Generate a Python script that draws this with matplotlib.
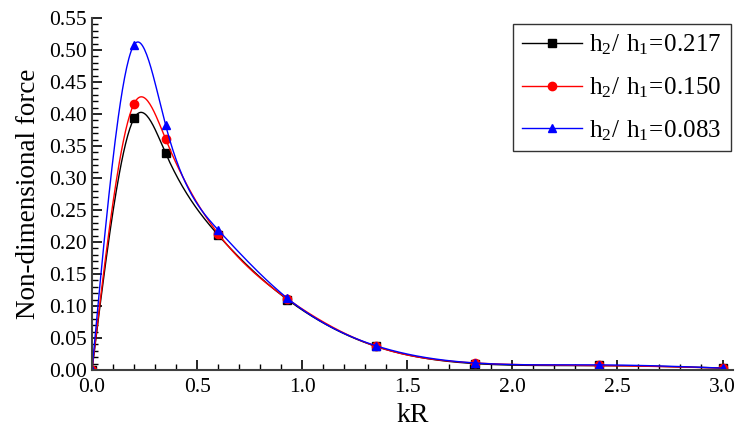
import numpy as np
import matplotlib
matplotlib.use("Agg")
import matplotlib.pyplot as plt
from matplotlib.ticker import MultipleLocator

# data
kR = [0.0, 0.20, 0.35, 0.60, 0.93, 1.35, 1.82, 2.41, 3.00]
force_0217 = [0.0, 0.393, 0.339, 0.211, 0.110, 0.037, 0.010, 0.007, 0.003]
force_0150 = [0.0, 0.416, 0.361, 0.213, 0.111, 0.037, 0.011, 0.007, 0.003]
force_0083 = [0.0, 0.508, 0.383, 0.219, 0.112, 0.038, 0.011, 0.008, 0.003]
labels = [r"$\mathrm{h_2/\ h_1\!=\!0.217}$",
          r"$\mathrm{h_2/\ h_1\!=\!0.150}$",
          r"$\mathrm{h_2/\ h_1\!=\!0.083}$"]


def spline_line(x, y, n=600):
    # natural cubic spline, the way the original plot connects points
    x = np.asarray(x, float)
    y = np.asarray(y, float)
    m = len(x)
    h = np.diff(x)
    A = np.zeros((m, m))
    r = np.zeros(m)
    A[0, 0] = 1
    A[-1, -1] = 1
    for i in range(1, m - 1):
        A[i, i - 1] = h[i - 1]
        A[i, i] = 2 * (h[i - 1] + h[i])
        A[i, i + 1] = h[i]
        r[i] = 6 * ((y[i + 1] - y[i]) / h[i] - (y[i] - y[i - 1]) / h[i - 1])
    M = np.linalg.solve(A, r)
    xs = np.linspace(x[0], x[-1], n)
    idx = np.clip(np.searchsorted(x, xs) - 1, 0, m - 2)
    x0, x1 = x[idx], x[idx + 1]
    hh = x1 - x0
    ys = (M[idx] * (x1 - xs) ** 3 / (6 * hh) + M[idx + 1] * (xs - x0) ** 3 / (6 * hh)
          + (y[idx] / hh - M[idx] * hh / 6) * (x1 - xs)
          + (y[idx + 1] / hh - M[idx + 1] * hh / 6) * (xs - x0))
    return xs, ys


plt.rcParams['font.family'] = ['Liberation Serif', 'DejaVu Serif']
plt.rcParams['mathtext.fontset'] = 'custom'
plt.rcParams['mathtext.rm'] = 'Liberation Serif'

fig = plt.figure(figsize=(7.37, 4.38), dpi=100)
ax = fig.add_axes([0.1248, 0.1553, 0.8698, 0.8036])

series = [(force_0217, 'black', 's'), (force_0150, 'red', 'o'), (force_0083, 'blue', '^')]
for (vals, col, mk), lab in zip(series, labels):
    xs, ys = spline_line(kR, vals)
    ax.plot(xs, ys, color=col, linewidth=1.0)
    ax.plot(kR, vals, linestyle='none', marker=mk, color=col, markersize=6)
    # legend proxy
    ax.plot([], [], color=col, marker=mk, markersize=6, linewidth=1.0, label=lab)

ax.set_xlim(0, 3.05)
ax.set_ylim(0, 0.55)
ax.xaxis.set_major_locator(MultipleLocator(0.5))
ax.xaxis.set_minor_locator(MultipleLocator(0.1))
ax.yaxis.set_major_locator(MultipleLocator(0.05))
ax.yaxis.set_minor_locator(MultipleLocator(0.01))
ax.xaxis.set_major_formatter(matplotlib.ticker.FormatStrFormatter('%.1f'))
ax.yaxis.set_major_formatter(matplotlib.ticker.FormatStrFormatter('%.2f'))

for s in ['top', 'right']:
    ax.spines[s].set_visible(False)
for s in ['left', 'bottom']:
    ax.spines[s].set_linewidth(1.5)
    ax.spines[s].set_color('#404040')

ax.tick_params(which='major', direction='in', length=7, width=1.2, labelsize=15.5, colors='black')
ax.tick_params(which='minor', direction='in', length=4, width=1.0)
ax.tick_params(axis='x', pad=6)

ax.set_xlabel('kR', fontsize=20, labelpad=4)
ax.set_ylabel('Non-dimensional force', fontsize=19.5, labelpad=6)

leg = ax.legend(loc='upper right', bbox_to_anchor=(1.0, 0.99), fontsize=18, frameon=True,
                fancybox=False, edgecolor='black', handlelength=2.4, borderpad=0.35,
                labelspacing=0.72, handletextpad=0.3, borderaxespad=0.1)
leg.get_frame().set_linewidth(1.0)

fig.savefig('out.png', dpi=100)
